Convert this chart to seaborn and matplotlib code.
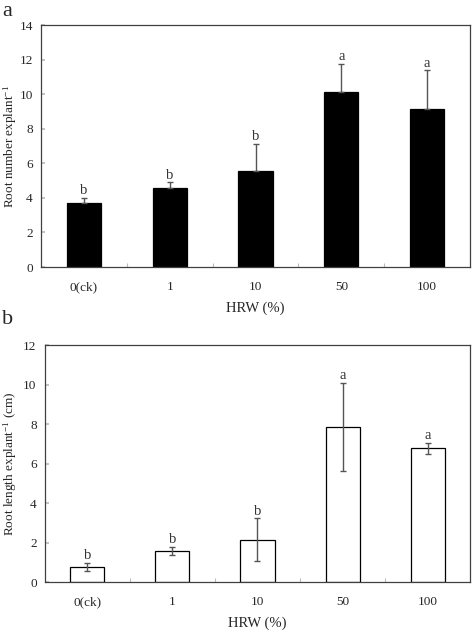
import numpy as np
import pandas as pd
import matplotlib
matplotlib.use("Agg")
import matplotlib.pyplot as plt
import seaborn as sns

categories = ["0(ck)", "1", "10", "50", "100"]
root_number = [3.7, 4.6, 5.57, 10.15, 9.15]
root_number_err = [0.3, 0.3, 1.57, 1.62, 2.22]
root_number_letters = ["b", "b", "b", "a", "a"]
root_length = [0.78, 1.58, 2.14, 7.84, 6.78]
root_length_err = [0.2, 0.2, 1.08, 2.23, 0.28]
root_length_letters = ["b", "b", "b", "a", "a"]

sns.set_theme(style="white")
plt.rcParams["font.family"] = ["Liberation Serif", "DejaVu Serif"]
plt.rcParams["mathtext.fontset"] = "custom"
plt.rcParams["mathtext.rm"] = "Liberation Serif"
plt.rcParams["mathtext.default"] = "regular"

fig = plt.figure(figsize=(4.72, 6.32), dpi=100)
ax1 = fig.add_axes([0.0869, 0.5775, 0.9089, 0.3829])
ax2 = fig.add_axes([0.0953, 0.0791, 0.9005, 0.3750])

spine_color = "#404040"
err_color = "#555555"


def draw(ax, vals, errs, letters, fill, ylabel, ymax, lower, ylab_x):
    df = pd.DataFrame({"HRW": categories, "val": vals})
    sns.barplot(data=df, x="HRW", y="val", ax=ax, color=fill, width=0.4,
                edgecolor="black", linewidth=0.9, errorbar=None, saturation=1)
    x = np.arange(len(categories))
    errs = np.array(errs)
    vals = np.array(vals)
    yerr = [errs if lower else np.zeros_like(errs), errs]
    ax.errorbar(x, vals, yerr=yerr, fmt="none", ecolor=err_color,
                elinewidth=1.0, capsize=2.5, capthick=1.0)
    for xi, v, e, t in zip(x, vals, errs, letters):
        ax.annotate(t, (xi, v + e), xytext=(0, 0.5), textcoords="offset points",
                    ha="center", va="bottom", fontsize=10.5, color="#333333")
    ax.set_xlim(-0.5, 4.5)
    ax.set_ylim(0, ymax)
    ax.set_yticks(np.arange(0, ymax + 1, 2))
    ax.set_xticks(x)
    ax.set_xticklabels(categories)
    ax.set_xticks(np.arange(0.5, 4.5, 1), minor=True)
    ax.tick_params(axis="x", which="major", length=0, pad=10, labelsize=9.5)
    ax.tick_params(axis="x", which="minor", direction="in", length=3,
                   color="#bbbbbb", width=0.8, bottom=True)
    ax.tick_params(axis="y", direction="in", length=3, color="#bbbbbb",
                   labelsize=9.5, pad=6, left=True)
    for s in ax.spines.values():
        s.set_color(spine_color)
        s.set_linewidth(0.9)
    ax.set_xlabel("HRW (%)", fontsize=10.5, labelpad=6)
    ax.set_ylabel(ylabel, fontsize=9.5)
    ax.yaxis.set_label_coords(ylab_x, 0.5)


draw(ax1, root_number, root_number_err, root_number_letters, "black",
     "Root number explant$^{-1}$", 14, False, -0.052)
draw(ax2, root_length, root_length_err, root_length_letters, "white",
     "Root length explant$^{-1}$ (cm)", 12, True, -0.062)

fig.text(0.004, 0.997, "a", fontsize=16, va="top", ha="left")
fig.text(0.004, 0.510, "b", fontsize=16, va="top", ha="left")

fig.savefig("out.png", dpi=100)
